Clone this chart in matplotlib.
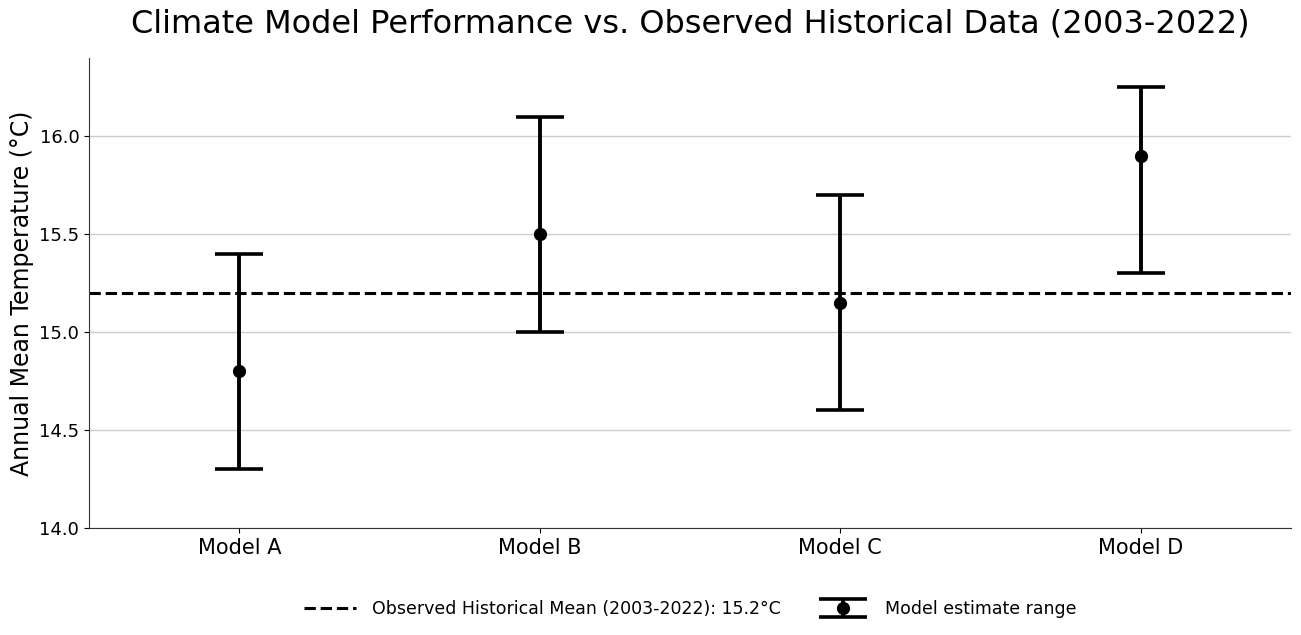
import matplotlib.pyplot as plt
import numpy as np

# data
models = ['Model A', 'Model B', 'Model C', 'Model D']
estimate = [14.8, 15.5, 15.15, 15.9]
low = [14.3, 15.0, 14.6, 15.3]
high = [15.4, 16.1, 15.7, 16.25]
observed_mean = 15.2

fig = plt.figure(figsize=(13.01, 6.35), dpi=100)
ax = fig.add_axes([0.0684, 0.1685, 0.924, 0.7402])

x = np.arange(len(models))
est = np.array(estimate)
yerr = [est - np.array(low), np.array(high) - est]

ax.axhline(observed_mean, color='black', linestyle='--', linewidth=2.2,
           label='Observed Historical Mean (2003-2022): 15.2°C', zorder=2)
ax.errorbar(x, est, yerr=yerr, fmt='o', color='black', markersize=8.5,
            elinewidth=2.8, capsize=17.5, capthick=2.6,
            label='Model estimate range', zorder=3)

ax.set_xlim(-0.5, 3.5)
ax.set_ylim(14.0, 16.4)
ax.set_yticks([14.0, 14.5, 15.0, 15.5, 16.0])
ax.set_xticks(x)
ax.set_xticklabels(models, fontsize=15)
ax.tick_params(axis='y', labelsize=13)
ax.grid(axis='y', color='#cccccc', linewidth=1)
ax.set_axisbelow(True)
for s in ['top', 'right']:
    ax.spines[s].set_visible(False)
for s in ['left', 'bottom']:
    ax.spines[s].set_color('#333333')

ax.set_ylabel('Annual Mean Temperature (°C)', fontsize=17)
ax.set_title('Climate Model Performance vs. Observed Historical Data (2003-2022)',
             fontsize=23, pad=18)
ax.legend(loc='upper center', bbox_to_anchor=(0.5, -0.12), ncol=2,
          frameon=False, fontsize=12.5, handlelength=3.0,
          handletextpad=0.9, columnspacing=2.1)

fig.savefig('out.png', dpi=100)
